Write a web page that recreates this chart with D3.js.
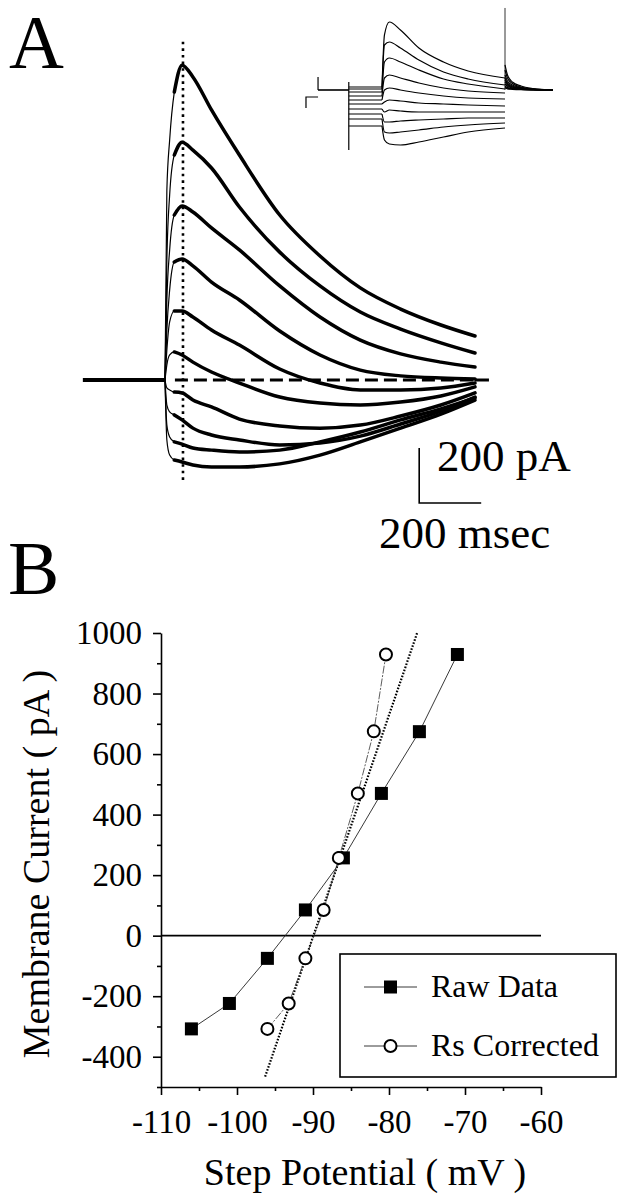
<!DOCTYPE html>
<html>
<head>
<meta charset="utf-8">
<script src="https://cdn.jsdelivr.net/npm/d3@7"></script>
<style>
  body { margin: 0; background: #fff; }
  svg { display: block; }
  text { font-family: "Liberation Serif", "Times New Roman", serif; fill: #000; }
</style>
</head>
<body>
<div id="chart"></div>
<script>
// ---------- Panel A: whole-cell current traces ----------
// time (ms) after the voltage step, shared by every trace
const traceTimes = [0, 6, 15, 30, 55, 90, 150, 240, 370, 500, 630, 760, 890, 1000];
// current (pA) relative to holding level, one row per step
const traceCurrents = [
  [0, 690, 873, 1047, 1145, 1102, 982, 818, 600, 451, 335, 258, 200, 160],
  [0, 436, 673, 818, 865, 836, 771, 629, 465, 342, 247, 185, 135, 98],
  [0, 291, 473, 600, 633, 611, 553, 473, 342, 229, 145, 95, 65, 47],
  [0, 182, 327, 429, 440, 415, 356, 291, 178, 91, 36, 15, 7, 4],
  [0, 109, 211, 251, 251, 229, 182, 127, 40, -11, -36, -36, -29, -11],
  [0, 55, 91, 102, 91, 65, 29, -11, -62, -84, -91, -80, -58, -25],
  [0, -29, -36, -44, -47, -73, -98, -142, -167, -175, -164, -131, -91, -47],
  [0, -91, -116, -127, -145, -175, -200, -218, -236, -229, -204, -160, -113, -62],
  [0, -164, -207, -225, -233, -247, -255, -262, -255, -225, -189, -145, -105, -65],
  [0, -218, -273, -291, -298, -309, -316, -316, -305, -273, -225, -175, -124, -73]
];
const holdTimes = [-265, 0];
const peakMarkTime = 58;          // dotted line through the peaks
const peakMarkRange = [-370, 1230];
const zeroDashTimes = [32, 1000];
const zeroStubTimes = [1000, 1045];
const scaleBarT = 820, scaleBarI = -447;

// ---------- inset: raw sweeps with prepulse and tails ----------
const insetHoldTimes = [-520, -270];
const insetPreTimes = [-270, 0];
const insetPreLevels = [50, 17, -33, -100, -167, -233, -317, -400, -483, -600];
const insetStepTimes = [0, 20, 60, 150, 300, 500, 700, 1000];
const insetStepCurrents = [
  [50, 917, 1133, 1000, 700, 467, 317, 200],
  [17, 750, 800, 700, 500, 300, 183, 83],
  [-33, 467, 533, 467, 333, 183, 100, 17],
  [-100, 200, 250, 200, 117, 33, -17, -50],
  [-167, 0, 33, 0, -50, -100, -133, -150],
  [-233, -200, -167, -183, -217, -233, -250, -267],
  [-317, -367, -333, -350, -367, -367, -367, -367],
  [-400, -533, -533, -517, -500, -483, -467, -467],
  [-483, -700, -717, -700, -667, -617, -583, -550],
  [-600, -833, -900, -917, -867, -783, -700, -633]
];
const insetTailTimes = [1000, 1020, 1060, 1130, 1230, 1390];
const insetTailCurrents = [
  [417, 250, 133, 67, 25, 0],
  [333, 200, 108, 50, 17, 0],
  [250, 150, 83, 40, 13, 0],
  [200, 117, 67, 33, 10, 0],
  [167, 100, 55, 27, 8, 0],
  [133, 83, 45, 22, 7, 0],
  [100, 63, 35, 17, 5, 0],
  [67, 42, 23, 12, 4, 0],
  [50, 30, 17, 8, 3, 0],
  [33, 20, 12, 5, 2, 0]
];
const insetStepEdge = [-1000, 133];  // vertical edge at prepulse onset
const insetTailEdge = [0, 1367];     // capacitive spike at step end
const insetHoldTick = [0, 217];
const insetSymbolT = [-618, -618, -520];
const insetSymbolI = [-300, -117, -117];

// ---------- Panel B: I-V relation ----------
const rawV = [-106, -101, -96, -91, -86, -81, -76, -71];
const rawI = [-308, -224, -75, 85, 257, 470, 674, 929];
const corrV = [-96, -93.2, -91, -88.6, -86.6, -84.1, -82, -80.4];
const corrI = [-308, -224, -75, 85, 257, 470, 675, 929];
const fitV = [-96.3, -76.3];
const fitI = [-466, 1000];
const xTicksB = d3.range(-110, -59, 5);
const yTicksB = d3.range(-500, 1001, 100);
const legendLabels = ["Raw Data", "Rs Corrected"];

const width = 622;
const height = 1200;

const svg = d3.create("svg")
  .attr("width", width)
  .attr("height", height)
  .attr("viewBox", `0 0 ${width} ${height}`);

svg.append("rect").attr("width", width).attr("height", height).attr("fill", "#fff");

// panel letters
svg.append("text").attr("x", 9).attr("y", 68).attr("font-size", 76).text("A");
svg.append("text").attr("x", 8).attr("y", 594).attr("font-size", 77).text("B");

// ----- panel A scales -----
const xA = d3.scaleLinear().domain([0, 200]).range([165, 227]);
const yA = d3.scaleLinear().domain([0, 200]).range([380, 325]);

const gA = svg.append("g");

const traceLine = d3.line()
  .x((d) => xA(d[0]))
  .y((d) => yA(d[1]))
  .curve(d3.curveMonotoneX);

// holding current before the step
gA.append("path")
  .attr("d", traceLine(holdTimes.map((t) => [t, 0])))
  .attr("fill", "none")
  .attr("stroke", "#000")
  .attr("stroke-width", 4);

// dashed zero-current reference
gA.append("path")
  .attr("d", d3.line()(zeroDashTimes.map((t) => [xA(t), yA(0)])))
  .attr("stroke", "#000")
  .attr("stroke-width", 3)
  .attr("stroke-dasharray", "13,6");
gA.append("path")
  .attr("d", d3.line()(zeroStubTimes.map((t) => [xA(t), yA(0)])))
  .attr("stroke", "#000")
  .attr("stroke-width", 3);

// thin fast onset, then the thick noisy part of each sweep
traceCurrents.forEach((row) => {
  const pts = traceTimes.map((t, i) => [t, row[i]]);
  gA.append("path")
    .attr("d", traceLine(pts))
    .attr("fill", "none")
    .attr("stroke", "#000")
    .attr("stroke-width", 1.2);
  gA.append("path")
    .attr("d", traceLine(pts.filter((p) => p[0] >= 30)))
    .attr("fill", "none")
    .attr("stroke", "#000")
    .attr("stroke-width", 3.5)
    .attr("stroke-linecap", "round");
});

// dotted line at peak time
gA.append("line")
  .attr("x1", xA(peakMarkTime)).attr("x2", xA(peakMarkTime))
  .attr("y1", yA(peakMarkRange[1])).attr("y2", yA(peakMarkRange[0]))
  .attr("stroke", "#000")
  .attr("stroke-width", 2.6)
  .attr("stroke-dasharray", "2.6,4");

// scale bar
gA.append("path")
  .attr("d", d3.line()([
    [xA(scaleBarT), yA(scaleBarI + 200)],
    [xA(scaleBarT), yA(scaleBarI)],
    [xA(scaleBarT + 200), yA(scaleBarI)]
  ]))
  .attr("fill", "none")
  .attr("stroke", "#000")
  .attr("stroke-width", 1.6);
gA.append("text").attr("x", 437).attr("y", 471).attr("font-size", 45).text("200 pA");
gA.append("text").attr("x", 379).attr("y", 548).attr("font-size", 45).text("200 msec");

// ----- inset -----
const xI = d3.scaleLinear().domain([0, 1000]).range([382, 505]);
const yI = d3.scaleLinear().domain([0, 1000]).range([90, 30]);
const gI = svg.append("g")
  .attr("fill", "none")
  .attr("stroke", "#000")
  .attr("stroke-width", 1.2);

const insetLine = d3.line()
  .x((d) => xI(d[0]))
  .y((d) => yI(d[1]))
  .curve(d3.curveMonotoneX);

gI.append("path").attr("d", insetLine(insetHoldTimes.map((t) => [t, 0]))).attr("stroke-width", 1.6);
gI.append("path").attr("d", d3.line()(insetHoldTick.map((v) => [xI(insetHoldTimes[0]), yI(v)])));
gI.append("path").attr("d", d3.line()(insetSymbolT.map((t, i) => [xI(t), yI(insetSymbolI[i])])));
gI.append("path").attr("d", d3.line()(insetStepEdge.map((v) => [xI(insetPreTimes[0]), yI(v)])));
gI.append("path").attr("d", d3.line()(insetTailEdge.map((v) => [xI(1000), yI(v)]))).attr("stroke-width", 0.8);

insetPreLevels.forEach((lvl) => {
  gI.append("path").attr("d", insetLine(insetPreTimes.map((t) => [t, lvl])));
});
insetStepCurrents.forEach((row) => {
  gI.append("path").attr("d", insetLine(insetStepTimes.map((t, i) => [t, row[i]])));
});
insetTailCurrents.forEach((row) => {
  gI.append("path").attr("d", insetLine(insetTailTimes.map((t, i) => [t, row[i]])));
});

// ----- panel B scales -----
const xB = d3.scaleLinear().domain([-110, -60]).range([161, 541]);
const yB = d3.scaleLinear().domain([-500, 1000]).range([1087, 633]);

const gB = svg.append("g");

const xAxis = gB.append("g")
  .attr("transform", `translate(0,${yB(-500)})`)
  .call(d3.axisBottom(xB).tickValues(xTicksB).tickSize(8).tickSizeOuter(0).tickPadding(15)
    .tickFormat((d) => String(d)));

const yAxis = gB.append("g")
  .attr("transform", `translate(${xB(-110)},0)`)
  .call(d3.axisLeft(yB).tickValues(yTicksB).tickSize(8).tickSizeOuter(0).tickPadding(11)
    .tickFormat((d) => String(d)));

[xAxis, yAxis].forEach((ax) => {
  ax.select(".domain").attr("stroke-width", 1.6);
  ax.selectAll(".tick line").attr("stroke-width", 1.6);
  ax.selectAll(".tick text")
    .attr("font-family", '"Liberation Serif", "Times New Roman", serif')
    .attr("font-size", 33);
});

// minor ticks: shorter, unlabeled
xAxis.selectAll(".tick").filter((d) => d % 10 !== 0).each(function () {
  d3.select(this).select("line").attr("y2", 4);
  d3.select(this).select("text").remove();
});
yAxis.selectAll(".tick").filter((d) => d % 200 !== 0).each(function () {
  d3.select(this).select("line").attr("x2", -4);
  d3.select(this).select("text").remove();
});

// axis titles
gB.append("text")
  .attr("x", 365).attr("y", 1185)
  .attr("text-anchor", "middle")
  .attr("font-size", 38)
  .text("Step Potential ( mV )");
gB.append("text")
  .attr("transform", `translate(49,864) rotate(-90)`)
  .attr("text-anchor", "middle")
  .attr("font-size", 38)
  .text("Membrane Current ( pA )");

// zero current line
gB.append("line")
  .attr("x1", xB(-110)).attr("x2", xB(-60))
  .attr("y1", yB(0)).attr("y2", yB(0))
  .attr("stroke", "#000")
  .attr("stroke-width", 1.6);

// linear fit, dotted
gB.append("path")
  .attr("d", d3.line()(fitV.map((v, i) => [xB(v), yB(fitI[i])])))
  .attr("stroke", "#000")
  .attr("stroke-width", 2.2)
  .attr("stroke-dasharray", "1.6,1.6");

const rawPts = rawV.map((v, i) => [xB(v), yB(rawI[i])]);
const corrPts = corrV.map((v, i) => [xB(v), yB(corrI[i])]);

gB.append("path")
  .attr("d", d3.line()(rawPts))
  .attr("fill", "none")
  .attr("stroke", "#222")
  .attr("stroke-width", 0.9);
gB.append("path")
  .attr("d", d3.line()(corrPts))
  .attr("fill", "none")
  .attr("stroke", "#333")
  .attr("stroke-width", 0.8)
  .attr("stroke-dasharray", "8,1.5,2,1.5");

const sq = 13;
gB.append("g")
  .selectAll("rect")
  .data(rawPts)
  .join("rect")
  .attr("x", (d) => d[0] - sq / 2)
  .attr("y", (d) => d[1] - sq / 2)
  .attr("width", sq)
  .attr("height", sq)
  .attr("fill", "#000");

gB.append("g")
  .selectAll("circle")
  .data(corrPts)
  .join("circle")
  .attr("cx", (d) => d[0])
  .attr("cy", (d) => d[1])
  .attr("r", 6)
  .attr("fill", "#fff")
  .attr("stroke", "#000")
  .attr("stroke-width", 2);

// legend
const legend = gB.append("g");
legend.append("rect")
  .attr("x", 340).attr("y", 954)
  .attr("width", 276).attr("height", 123)
  .attr("fill", "#fff")
  .attr("stroke", "#000")
  .attr("stroke-width", 1.6);

legendLabels.forEach((label, i) => {
  const y = 987 + i * 59;
  legend.append("line")
    .attr("x1", 364).attr("x2", 417)
    .attr("y1", y).attr("y2", y)
    .attr("stroke", "#222")
    .attr("stroke-width", 0.9);
  if (i === 0) {
    legend.append("rect")
      .attr("x", 390.5 - sq / 2).attr("y", y - sq / 2)
      .attr("width", sq).attr("height", sq)
      .attr("fill", "#000");
  } else {
    legend.append("circle")
      .attr("cx", 390.5).attr("cy", y).attr("r", 6)
      .attr("fill", "#fff").attr("stroke", "#000").attr("stroke-width", 2);
  }
  legend.append("text")
    .attr("x", 431).attr("y", y + 10)
    .attr("font-size", 32)
    .text(label);
});

document.getElementById("chart").appendChild(svg.node());
</script>
</body>
</html>
